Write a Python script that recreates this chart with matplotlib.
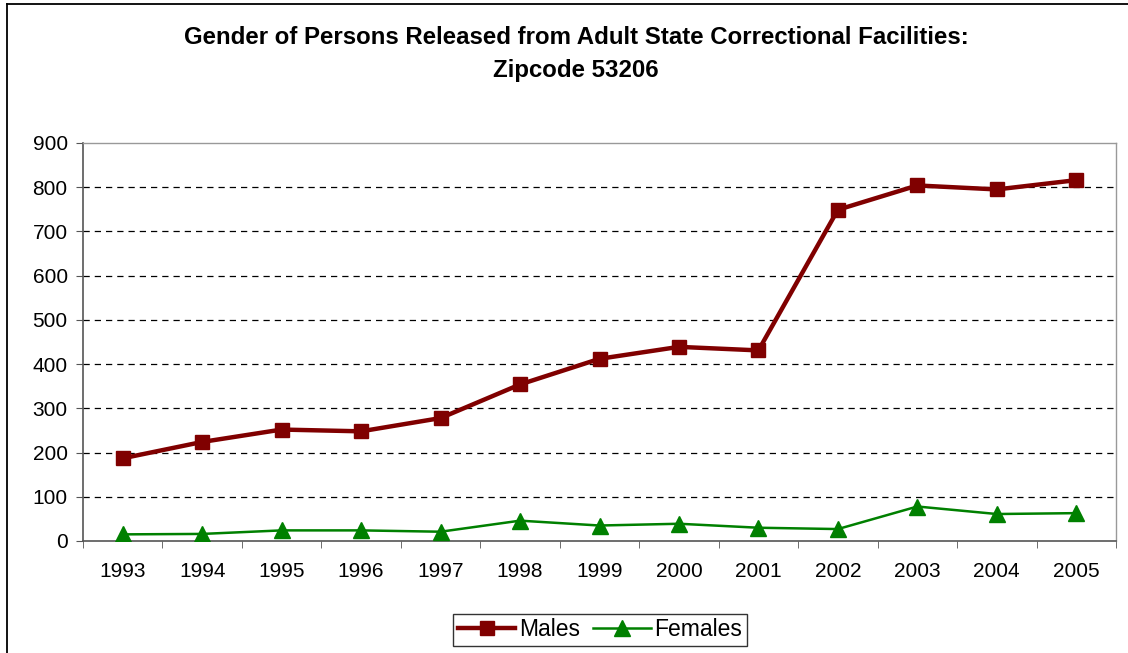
import numpy as np
import matplotlib
matplotlib.use('Agg')
import matplotlib.pyplot as plt
from matplotlib.lines import Line2D

plt.rcParams['font.family'] = ['Liberation Sans', 'DejaVu Sans']

years = ['1993', '1994', '1995', '1996', '1997', '1998', '1999',
         '2000', '2001', '2002', '2003', '2004', '2005']
males = [187, 224, 252, 248, 278, 354, 412, 439, 431, 749, 804, 795, 816]
females = [15, 16, 24, 24, 21, 46, 35, 39, 30, 27, 78, 61, 63]

W, H = 1128, 653
fig = plt.figure(figsize=(W/100, H/100), dpi=100)
ax = fig.add_axes([83/W, 1-541/H, (1116-83)/W, (541-143)/H])

x = np.arange(len(years))
ax.plot(x, males, color='#800000', lw=3.2, marker='s', ms=10, label='Males', zorder=4)
ax.plot(x, females, color='#008000', lw=1.8, marker='^', ms=11, label='Females', zorder=3)

ax.set_xlim(-0.5, len(years) - 0.5)
ax.set_ylim(0, 900)
ax.set_yticks(range(0, 1000, 100))
ax.set_xticks(x)
ax.set_xticklabels(years)
ax.set_xticks(np.arange(-0.5, len(years), 1), minor=True)
ax.tick_params(axis='x', which='major', length=0, pad=15, labelsize=15)
ax.tick_params(axis='x', which='minor', length=5, direction='out', color='#555555')
ax.tick_params(axis='y', length=5, direction='out', labelsize=15, pad=6, color='#555555')

for v in range(100, 900, 100):
    ax.axhline(v, color='black', lw=0.9, ls=(0, (5, 4)), zorder=1)

for s in ['left', 'bottom']:
    ax.spines[s].set_color('#555555')
    ax.spines[s].set_linewidth(1.2)
for s in ['top', 'right']:
    ax.spines[s].set_color('#999999')
    ax.spines[s].set_linewidth(1.0)

fig.text(576/W, 1-38/H, 'Gender of Persons Released from Adult State Correctional Facilities:',
         ha='center', va='center', fontsize=17.3, fontweight='bold')
fig.text(576/W, 1-71/H, 'Zipcode 53206',
         ha='center', va='center', fontsize=17.3, fontweight='bold')

leg = fig.legend(loc='center', bbox_to_anchor=(600/W, 1-630/H), ncol=2,
                 fontsize=16.5, frameon=True, fancybox=False, edgecolor='black',
                 handlelength=2.5, handletextpad=0.15, columnspacing=0.6,
                 borderpad=0.2, borderaxespad=0)
leg.get_frame().set_linewidth(1.0)

# chart-area border (only top and left are inside the picture)
fig.add_artist(Line2D([7/W, 7/W], [0, 1-4/H], transform=fig.transFigure,
                      color='black', lw=1.3))
fig.add_artist(Line2D([7/W, 1], [1-4/H, 1-4/H], transform=fig.transFigure,
                      color='black', lw=1.3))

fig.savefig('out.png', dpi=100)
